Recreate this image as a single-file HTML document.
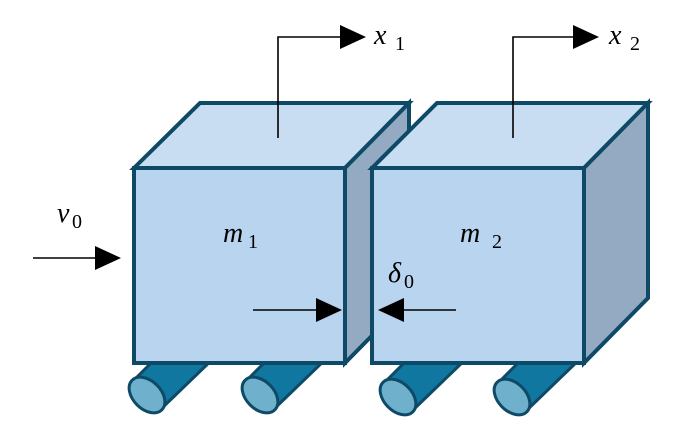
<!DOCTYPE html>
<html><head><meta charset="utf-8"><style>
html,body{margin:0;padding:0;background:#fff;}
svg{display:block;}
text{font-family:"Liberation Serif",serif;fill:#000;}
</style></head><body>
<svg width="700" height="443" viewBox="0 0 700 443" xmlns="http://www.w3.org/2000/svg">
<defs>
<g id="wheel">
  <path d="M-14,-14 L40,-68 L70,-40 L14,14 Z" fill="#0f77a0" stroke="#0e4a66" stroke-width="3" stroke-linejoin="round"/>
  <ellipse cx="0" cy="0" rx="21" ry="14" transform="rotate(45)" fill="#6fb0cc" stroke="#0e4a66" stroke-width="3"/>
</g>
</defs>
<use href="#wheel" x="147" y="395"/>
<use href="#wheel" x="260" y="395"/>
<use href="#wheel" x="398" y="397"/>
<use href="#wheel" x="512" y="397"/>

<g stroke="#0e4a66" stroke-width="4" stroke-linejoin="miter">
<polygon points="134,168 200,103 409,103 345,168" fill="#c8ddf2"/>
<polygon points="345,168 409,103 409,298 345,363" fill="#94aac2"/>
<rect x="134" y="168" width="211" height="195" fill="#b9d4ee"/>
</g>
<g stroke="#0e4a66" stroke-width="4" stroke-linejoin="miter">
<polygon points="372,168 437,103 648,103 584,168" fill="#c8ddf2"/>
<polygon points="584,168 648,103 648,298 584,363" fill="#94aac2"/>
<rect x="372" y="168" width="212" height="195" fill="#b9d4ee"/>
</g>

<g stroke="#000" stroke-width="1.6" fill="none">
<polyline points="278,138 278,37 342,37"/>
<polyline points="513,138 513,37 576,37"/>
<line x1="33" y1="258" x2="97" y2="258"/>
<line x1="253" y1="310" x2="320" y2="310"/>
<line x1="456" y1="310" x2="400" y2="310"/>
</g>
<g fill="#000">
<polygon points="340,25 366,37 340,49"/>
<polygon points="573,25 599,37 573,49"/>
<polygon points="95,246 121,258 95,270"/>
<polygon points="316,298 342,310 316,322"/>
<polygon points="404,298 378,310 404,322"/>
</g>

<text x="374" y="44" font-size="28" font-style="italic">x</text>
<text x="395" y="50" font-size="20">1</text>
<text x="609" y="44" font-size="28" font-style="italic">x</text>
<text x="630" y="50" font-size="20">2</text>
<text x="57" y="222" font-size="28" font-style="italic">v</text>
<text x="72" y="228" font-size="20">0</text>
<text x="223" y="242" font-size="28" font-style="italic">m</text>
<text x="248" y="248" font-size="20">1</text>
<text x="460" y="242" font-size="28" font-style="italic">m</text>
<text x="492" y="248" font-size="20">2</text>
<text x="388" y="282" font-size="28" font-style="italic">δ</text>
<text x="404" y="288" font-size="20">0</text>
</svg>
</body></html>
